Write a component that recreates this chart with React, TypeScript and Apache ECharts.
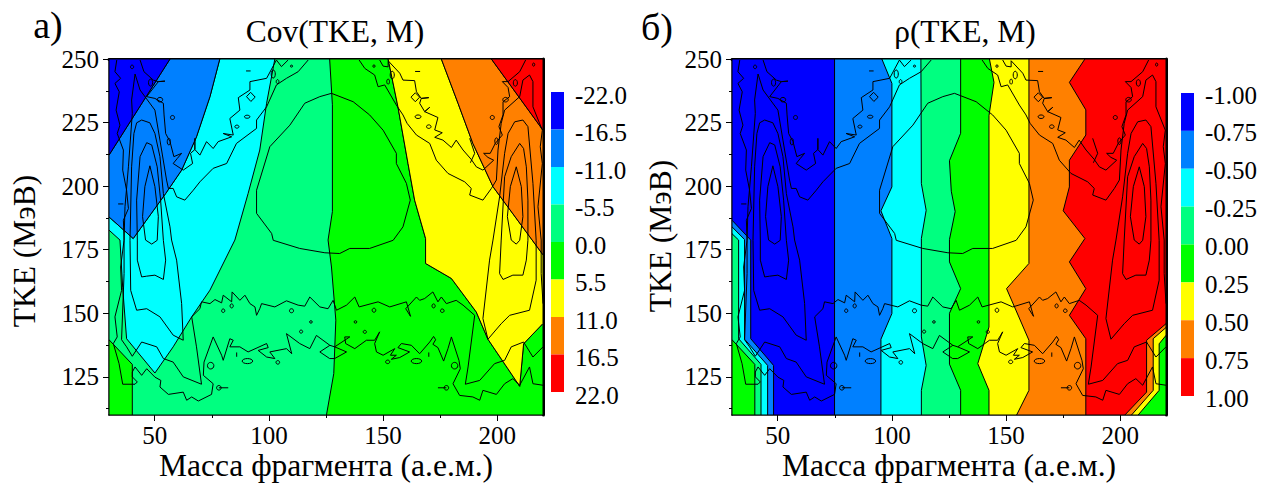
import React, { useEffect, useRef } from "react";
import * as echarts from "echarts";

type P = number[];
const X_MIN = 30, X_MAX = 220, Y_MIN = 110, Y_MAX = 250;
const xMajor = [50, 100, 150, 200];
const xMinor = [75, 125, 175];
const yMajor = [125, 150, 175, 200, 225, 250];
const yMinor = [112.5, 137.5, 162.5, 187.5, 212.5, 237.5];
const colors = ["#0000ff", "#0080ff", "#00ffff", "#00ff80", "#00ff00", "#ffff00", "#ff8000", "#ff0000"];
const covLevels = ["-22.0", "-16.5", "-11.0", "-5.5", "0.0", "5.5", "11.0", "16.5", "22.0"];
const rhoLevels = ["-1.00", "-0.75", "-0.50", "-0.25", "0.00", "0.25", "0.50", "0.75", "1.00"];

/* ---------- Cov panel filled bands (mass, TKE) ---------- */
const covBack: P[] = [[30, 250], [220, 250], [220, 110], [30, 110]];
const covCornerGreen: P[] = [[30, 139.6], [40.2, 129.9], [40.2, 110], [30, 110]];
const covCyan: P[] = [[78.5, 250], [102.6, 250], [99, 232.6], [96, 214.2], [90.9, 197.1], [85.1, 178.8], [74.2, 159.1], [66.2, 148.6], [58.1, 136.8], [50.1, 126.5], [37.7, 140], [36, 160], [34.8, 178.8], [30, 182.7], [30, 187.9], [40.6, 179.4], [54.8, 197.1], [61.8, 206.3], [68.3, 219.4], [74.2, 235.2]];
const covSky: P[] = [[56.7, 250], [78.5, 250], [74.2, 235.2], [68.3, 219.4], [61.8, 206.3], [54.8, 197.1], [40.6, 179.4], [30, 187.9], [30, 212.2]];
const covBlue: P[] = [[30, 250], [56.7, 250], [30, 212.2]];
const covGreen: P[] = [[126.6, 250], [152.2, 250], [156.5, 231.2], [160.9, 208.9], [163.8, 194.5], [168.6, 179.4], [168.6, 169.6], [179.9, 163.7], [190.8, 150.5], [195.9, 139.8], [209.8, 121.3], [211.5, 138], [220, 146], [220, 110], [125.2, 110], [128.4, 126.3], [129.3, 147.3], [127.4, 168.2], [125.9, 178.8], [127.8, 190], [127.8, 232]];
const covYellow: P[] = [[152.2, 250], [175.5, 250], [182.8, 232.6], [189.3, 216.8], [198.1, 199.8], [220, 173], [220, 146], [211.5, 138], [209.8, 121.3], [195.9, 139.8], [190.8, 150.5], [179.9, 163.7], [168.6, 169.6], [168.6, 179.4], [163.8, 194.5], [160.9, 208.9], [156.5, 231.2]];
const covOrange: P[] = [[175.5, 250], [197.4, 250], [220, 222], [220, 173], [198.1, 199.8], [189.3, 216.8], [182.8, 232.6]];
const covRed: P[] = [[197.4, 250], [220, 250], [220, 222]];

/* ---------- rho panel filled bands ---------- */
const rhoBack: P[] = [[30, 250], [220, 250], [220, 110], [30, 110]];
const rhoSkyEdge: P[] = [[74.9, 250], [74.9, 110]];
const rhoCyanEdge: P[] = [[95.6, 250], [100, 240.4], [100, 199.7], [95.2, 190.3], [100, 179.4], [100, 149.9], [95.2, 139.8], [95.2, 110]];
const rhoSpringEdge: P[] = [[112.7, 250], [112.9, 201], [115, 190.5], [112.9, 179.4], [112.9, 140.7], [115, 129.5], [112.9, 119.7], [112.9, 110]];
const rhoGreenEdge: P[] = [[130.1, 250], [130.1, 220.8], [125.2, 210], [126, 198], [127.7, 190], [125.2, 179], [125.2, 170.2], [130.1, 159.7], [125.2, 150], [125.2, 130], [130.1, 119.7], [130.1, 110]];
const rhoYellowEdge: P[] = [[142.7, 250], [144.7, 240.8], [142.5, 227.7], [142.5, 144.6], [137.6, 130.2], [142.5, 119.7], [142.5, 110]];
const rhoOrangeEdge: P[] = [[160, 250], [160, 169.6], [150.2, 159.7], [160, 139.4], [160, 119.7], [154.6, 110]];
const rhoRedEdge: P[] = [[184.5, 250], [177.7, 240.8], [184.9, 230], [184.9, 220.1], [177.7, 210.2], [177.7, 199.7], [175, 190.3], [184.5, 179.4], [177.7, 170.2], [184.9, 159.7], [177.7, 149.2], [184.9, 140], [184.9, 110]];
const rhoRightOrange: P[] = [[202, 110], [211.5, 119], [211.5, 139.4], [220, 145.9], [220, 110]];
const rhoRightYellow: P[] = [[204.9, 110], [214.4, 119.7], [214.4, 140], [220, 144.4], [220, 110]];
const rhoRightGreen: P[] = [[207.8, 110], [217, 119.7], [217, 138], [220, 141.3], [220, 110]];
const rhoLeftSky: P[] = [[30, 186.6], [38.2, 178.8], [38.2, 140], [48.2, 129.5], [48.2, 110], [30, 110]];
const rhoLeftCyan: P[] = [[30, 184], [35.5, 179], [35.5, 139.8], [45.6, 129.5], [45.6, 110], [30, 110]];
const rhoLeftSpring: P[] = [[30, 181.3], [32.9, 178.8], [32.9, 140], [42.7, 129.9], [42.7, 110], [30, 110]];
const rhoLeftGreen: P[] = [[30, 139.6], [40, 129.9], [40, 110], [30, 110]];

/* ---------- yield contours, common to both panels ---------- */
const outerLeftLower: P[] = [[33.4, 249.6], [32.6, 245], [35.1, 242.4], [32.6, 240.4], [34.5, 237.1], [33.1, 229.9], [34.8, 224], [33.6, 220.7], [36.3, 214.2], [36, 206.3], [37.7, 198.4], [38.5, 191.2], [36.3, 186.6], [36.6, 178.8], [35.1, 168.2], [35.5, 159], [32.6, 148.6], [33.6, 140.7], [31.9, 138.1], [34.4, 130.2], [36, 122.1], [41.4, 122.1], [42.4, 123], [40.2, 125], [40.2, 126.9], [41.4, 128.9], [44.3, 125.6], [46.5, 128.2], [50.1, 124.9], [52.7, 123.6], [52.3, 121], [56, 118.1], [62.5, 119], [64, 115.8], [66.2, 117.1], [69.1, 115.5], [74.9, 118.1], [75.6, 122.3], [71.3, 125.6], [71.6, 130.8], [75.6, 140.7], [79.3, 133.5], [80, 131.5], [82.9, 140], [84.4, 139.4], [82.9, 136.8], [87.3, 136.8], [90.9, 134.8], [99, 138.1], [99.7, 136.5], [95.3, 135.4], [99, 132.8], [102.6, 132.2], [100.4, 134.8], [107.7, 136.1], [110, 134.1], [107.7, 142], [113.5, 138.1], [117.9, 136.1], [120.8, 141.3], [126.7, 137.4], [128.8, 136.8], [135.4, 140.7], [133.2, 140.7], [133.6, 138.1], [137.6, 136.1], [142.7, 139.4], [146.3, 139.4], [148.5, 142.7], [146.3, 138.1], [147.1, 134.8], [150, 133.5], [155.1, 136.1], [153.2, 133.5], [155.8, 133.5], [153.6, 131.9], [157.3, 132.6], [161.6, 134.8], [156.5, 136.5], [158, 138.1], [162.4, 137.4], [166, 134.1], [170.4, 138.7], [172.1, 140.9], [173, 139.6], [171.8, 137.8], [174, 136.5], [176.5, 131.2], [178.4, 136.1], [179.9, 140.7], [183.2, 131.5], [183.8, 128.2], [180.6, 122.3], [183.5, 117.7], [189.3, 117.1], [192.3, 115.8], [193.7, 119.7], [199.6, 118.1], [203.2, 122.3], [206.8, 124.3], [209.8, 121.7], [214.1, 128.9], [215.6, 122.3], [220, 121.7]];
const middleBranch: P[] = [[126.7, 137.4], [122.3, 134.8], [126.6, 132.2], [128.8, 132.2], [134, 134.8], [128.8, 136.8]];
const upperBandLoop: P[] = [[117.2, 249.6], [112.8, 245], [107.7, 242.4], [103.3, 239.8], [99, 231.2], [94.6, 226], [94.6, 222.7], [85.8, 216.8], [81.5, 208.9], [75.6, 207], [69.8, 201.7], [66.9, 198.4], [63.2, 194.5], [59.6, 195.8], [58.1, 199.1], [56, 199.1], [55.2, 202.4], [52.3, 218.1], [50.1, 229.9], [43.6, 237.8], [41.4, 244.1], [39.9, 233.9], [40.2, 228.6], [38.5, 207.6], [37, 191.9], [36.6, 178.7], [36.6, 165.6], [35.5, 139.6], [37.7, 136.8], [40.2, 133.1], [44.3, 138.7], [50.9, 136.8], [53.8, 132.2], [58.1, 130.8], [62.5, 125], [70.5, 122.1], [68.3, 136.8], [66.2, 148.6], [69.8, 151.8], [70.5, 154.5], [74.2, 153.8], [76.4, 155.4], [79.3, 154.1], [80, 157.1], [83.7, 154.5], [83.9, 158.4], [87.3, 155.1], [89.5, 157.1], [91.7, 153.8], [93.9, 152.5], [94.6, 149.2], [96, 151.8], [96.8, 153.8], [102.6, 152.5], [107.7, 154.9], [112.8, 153.2], [115.7, 152.8], [117.9, 156.4], [122.3, 152.5], [125.9, 151.8], [128.1, 155.1], [129.6, 151.2], [134, 153.2], [137.6, 156.4], [139.5, 152.5], [147.8, 154.5], [152.9, 152.5], [160.2, 154.5], [162, 148.8], [159.9, 151.8], [164.6, 156.4], [166, 155.1], [168.2, 155.8], [171.8, 158.4], [174, 154.5], [175.5, 156.4], [177.7, 153.8], [182, 155.1], [185, 153.2], [190.1, 149.2], [187.2, 128.9], [186, 122.1], [192.3, 123.6], [198.8, 130.2], [203.2, 131.5], [206.1, 136.8], [211.5, 138.7], [215.6, 132.8], [220, 136.8]];
const jaggedLeft: P[] = [[43.6, 249.6], [45.3, 245], [49.4, 241.7], [51.6, 241.1], [54.5, 241.3], [51.6, 241.1], [46.5, 235.2], [50.1, 234.5], [53.8, 232.6], [54.1, 228], [54.8, 220.7], [56.7, 217.5], [58.4, 211.6], [61.8, 212.9], [59.9, 210.9], [58.1, 208.9], [62.5, 206.3], [66.6, 208.9], [65.7, 212.9], [67.6, 214.4], [67.6, 218.8], [67.6, 214.4], [69.8, 212.2], [72.7, 217.5], [75.6, 214.8], [77.8, 217.5], [83.7, 219.4], [80, 220.7], [84.4, 220.1], [82.9, 226.6], [87.3, 229.9], [86.6, 234.8], [91.7, 237.8], [91.7, 241.1], [99, 242.4], [103.3, 249.6], [105.5, 247], [108.4, 249.6]];
const jaggedRight: P[] = [[148.5, 249.6], [150, 247.2], [152.2, 246.9], [152.2, 249.3], [157.3, 244.4], [158.7, 241.7], [163.8, 241.5], [164.6, 237.1], [166.7, 234.5], [170, 234.8], [166.7, 234.5], [166, 232.6], [168.2, 229.3], [170.4, 231], [168.2, 229.3], [174, 227], [172.6, 222.1], [175.9, 221], [172.6, 219.2], [176.2, 218.1], [179.9, 215.2], [182, 218.1], [185, 214.2], [188.6, 210.5], [190.8, 207.6], [193.7, 206.3], [198.4, 210.2], [195.9, 211.3], [194, 212.9], [196.9, 212.9], [199.1, 216.8], [202.2, 220.1], [200.7, 223.4], [202.5, 228], [202.5, 233.2], [205.4, 235.2], [204.7, 238.8], [202.2, 241.1], [204.7, 241.1], [209.8, 245], [212.4, 249.6]];
const rightShoulder: P[] = [[139.5, 249.6], [142, 246.3], [146.3, 243.7], [147.8, 239.1], [150.7, 239.8], [155.8, 231.9], [158.7, 228], [160.5, 224.7], [164.6, 220.1], [170.4, 216.8], [173.3, 210.2], [178.4, 205], [185.7, 201.7], [188.6, 199.1], [187.9, 196.5], [193.7, 194.5], [197.4, 199.1], [199.6, 202.4], [200.3, 214.2], [201.7, 224.7], [203.2, 229.9], [209.8, 235.2], [211.2, 241.7], [214.1, 243.7], [215.6, 241.1], [215.6, 231.2], [219.7, 222], [218.8, 215.5], [219.7, 208.9], [217.8, 191.9], [219.2, 178.8], [219.2, 165.6], [220, 153.8]];
const peakLeft3: P[] = [[39.5, 159], [39.2, 178.7], [39.9, 207.6], [40.9, 220.7], [42.1, 224.9], [44.3, 226], [47.9, 224.9], [50.1, 220.7], [52.3, 211.6], [53.8, 197.1], [56.7, 184], [57.4, 178.8], [59.6, 170.9], [61.8, 153.8], [62.5, 139.4], [58.1, 141.4], [52.3, 148.6], [46.5, 151.8], [42.1, 151.2], [39.5, 159]];
const peakLeft2: P[] = [[46.5, 217.1], [43.6, 211.6], [42.1, 194.5], [42.4, 178.8], [42.4, 170.9], [44.3, 164.3], [46.5, 164.6], [50.1, 165], [53.8, 163.3], [54.8, 170.9], [53.8, 178.7], [52.6, 194.5], [51.1, 207.6], [48.7, 216.2], [46.5, 217.1]];
const peakLeft1: P[] = [[47.9, 208], [45.7, 199.8], [44.7, 188], [46, 178.8], [48.7, 177.2], [51.1, 178.7], [51.6, 188], [50.1, 199.8], [47.9, 208]];
const peakRight3: P[] = [[211.2, 226], [207.6, 225.3], [204.7, 220.7], [203.2, 212.9], [201, 195.8], [198.1, 178.8], [196.6, 170.9], [193.7, 147.9], [195.9, 139.8], [201.7, 145.9], [205.4, 149.2], [214.1, 151.2], [217, 163], [217, 178.7], [215.6, 201.1], [213.4, 223.4], [211.2, 226]];
const peakRight2: P[] = [[209.8, 216.8], [206.1, 211.6], [203.2, 203.7], [201.7, 178.8], [201, 165.6], [202.5, 163.3], [206.8, 165], [211.2, 165], [212.7, 170.9], [213.4, 178.7], [213.4, 194.5], [212.7, 207.6], [211.5, 214.8], [209.8, 216.8]];
const peakRight1: P[] = [[208.3, 207.6], [205.7, 199.8], [204.4, 188], [206.1, 178.8], [208.3, 177.2], [209.8, 178.7], [211.2, 188], [210.5, 199.8], [208.3, 207.6]];
const centralDome: P[] = [[127.4, 236.5], [122.3, 235.2], [115.7, 232.6], [109.2, 224], [100.4, 215.5], [94.6, 198.4], [94.6, 189.3], [101.2, 181.4], [101.9, 178.7], [113.5, 175.5], [124.5, 173.8], [131, 173.5], [135.4, 175.5], [144.1, 175.5], [154.4, 178.7], [158.7, 184], [161.9, 194.5], [160.2, 201.1], [155.8, 208.9], [155.8, 212.9], [150, 222], [144.1, 228], [136.9, 233.2], [127.4, 236.5]];
const diamondLeft: P[] = [[92, 236.9], [94, 235], [92.1, 233.3], [90.2, 235.2], [92, 236.9]];
const diamondRight: P[] = [[164.1, 236.7], [166, 235], [164.1, 233.2], [162.2, 235], [164.1, 236.7]];
const shortMarks: P[][] = [
  [[34, 193], [36.3, 193]], [[90, 245.3], [92, 245.3]], [[164, 245.1], [166.2, 245.1]],
  [[85.9, 132.9], [85.9, 134.6]], [[170, 132.9], [170, 134.6]], [[78.1, 120.7], [82.2, 120.7]],
  [[174, 120.7], [177.7, 120.7]], [[187.9, 218.8], [190.1, 212.9], [188.2, 209.2]],
];
/* mass, TKE, half width in mass, half height in TKE */
const islands: P[] = [
  [40.1, 246.9, .7, .7], [48.2, 240.7, .9, 1.4], [57.8, 227, .9, .8], [56.2, 217.5, .7, 1.3], [52.3, 234, 1.2, .9], [90.5, 227.3, 1.2, .6], [86, 223.4, .9, .6], [101.9, 244.1, .9, 1.6], [103.8, 241.1, .6, .8], [109.9, 247.2, .5, .4],
  [146, 247.2, .5, .5], [154, 243.7, .9, 1.5], [152.2, 241.1, .6, 1], [165.3, 227.3, 1.3, .7], [170, 223.4, 1, .7], [197.8, 227, .9, .8], [203.6, 234, 1.2, .9], [199.6, 217.7, .7, 1.3], [207.9, 240.6, .9, 1.3], [215.9, 247.8, .5, .6],
  [80, 151, .7, .7], [83.7, 152.9, .7, .8], [109.9, 151, .9, .8], [118.4, 146.6, .6, .5], [114.1, 142.8, .7, .6], [74.5, 129.4, 1.4, 1.3], [78.1, 120.7, 1, .9], [90.6, 131.2, 2.3, 1], [103.9, 130.7, .8, .7],
  [146, 151.2, .8, .8], [172.1, 152.9, .7, .8], [175.9, 151, .8, .7], [137.9, 146.6, .6, .5], [142, 142.7, .7, .6], [152, 130.9, .9, .7], [164.6, 131.2, 2.3, 1], [181.3, 129.4, 1.4, 1.3], [177.7, 120.7, 1, .9],
];
const contourLines: P[][] = [outerLeftLower, middleBranch, upperBandLoop, jaggedLeft, jaggedRight, rightShoulder, peakLeft3, peakLeft2, peakLeft1, peakRight3, peakRight2, peakRight1, centralDome, diamondLeft, diamondRight, ...shortMarks];

const toRight = (edge: P[]): P[] => [...edge, [220, 110], [220, 250]];
const covFills: [P[], string][] = [
  [covBack, colors[3]], [covCornerGreen, colors[4]], [covCyan, colors[2]], [covSky, colors[1]], [covBlue, colors[0]],
  [covGreen, colors[4]], [covYellow, colors[5]], [covOrange, colors[6]], [covRed, colors[7]],
];
const rhoFills: [P[], string][] = [
  [rhoBack, colors[0]], [toRight(rhoSkyEdge), colors[1]], [toRight(rhoCyanEdge), colors[2]], [toRight(rhoSpringEdge), colors[3]],
  [toRight(rhoGreenEdge), colors[4]], [toRight(rhoYellowEdge), colors[5]], [toRight(rhoOrangeEdge), colors[6]], [toRight(rhoRedEdge), colors[7]],
  [rhoRightOrange, colors[6]], [rhoRightYellow, colors[5]], [rhoRightGreen, colors[4]],
  [rhoLeftSky, colors[1]], [rhoLeftCyan, colors[2]], [rhoLeftSpring, colors[3]], [rhoLeftGreen, colors[4]],
];

const FONT = "'Liberation Serif', 'Times New Roman', serif";
const TICK = 25;
const AXIS = 31.5;

function panelAxes(gridIndex: number) {
  const label = { show: true, color: "#000", fontFamily: FONT, fontSize: TICK };
  const hidden = { show: false };
  const thin = { show: true, onZero: false, lineStyle: { color: "#000", width: 1.5 } };
  const thick = { show: true, onZero: false, lineStyle: { color: "#000", width: 3 } };
  const base = { type: "value", gridIndex, splitLine: hidden };
  const xb = { ...base, min: X_MIN, max: X_MAX };
  const yb = { ...base, min: Y_MIN, max: Y_MAX };
  const tickStyle = { color: "#000", width: 1 };
  return {
    x: [
      { ...xb, position: "bottom", axisLine: thin, name: "Масса фрагмента (а.е.м.)", nameLocation: "middle", nameGap: 34, nameMoveOverlap: false,
        nameTextStyle: { color: "#000", fontFamily: FONT, fontSize: AXIS },
        axisTick: { show: true, length: 6, lineStyle: tickStyle, customValues: xMajor },
        axisLabel: { ...label, margin: 8, customValues: xMajor } },
      { ...xb, position: "bottom", axisLine: { show: false, onZero: false }, axisLabel: hidden,
        axisTick: { show: true, length: 3, lineStyle: tickStyle, customValues: xMinor } },
      { ...xb, position: "top", axisLine: thick, axisTick: hidden, axisLabel: hidden },
    ],
    y: [
      { ...yb, position: "left", axisLine: thin,
        axisTick: { show: true, length: 6, lineStyle: tickStyle, customValues: yMajor },
        axisLabel: { ...label, margin: 10, customValues: yMajor } },
      { ...yb, position: "left", axisLine: { show: false, onZero: false }, axisLabel: hidden,
        axisTick: { show: true, length: 3, lineStyle: tickStyle, customValues: yMinor } },
      { ...yb, position: "right", axisLine: thick, axisTick: hidden, axisLabel: hidden },
    ],
  };
}

function fillSeries(fills: [P[], string][], xAxisIndex: number, yAxisIndex: number) {
  return {
    type: "custom", coordinateSystem: "cartesian2d", xAxisIndex, yAxisIndex, clip: true, silent: true, z: 1,
    data: fills.map((_, i) => [i]), encode: { x: [], y: [] },
    renderItem: (params: any, api: any) => ({
      type: "polygon",
      shape: { points: fills[params.dataIndex][0].map((p) => api.coord(p)) },
      style: { fill: fills[params.dataIndex][1], stroke: "#000", lineWidth: 1 },
    }),
  };
}
function lineSeries(xAxisIndex: number, yAxisIndex: number) {
  return {
    type: "custom", coordinateSystem: "cartesian2d", xAxisIndex, yAxisIndex, clip: true, silent: true, z: 2,
    data: contourLines.map((_, i) => [i]), encode: { x: [], y: [] },
    renderItem: (params: any, api: any) => ({
      type: "polyline",
      shape: { points: contourLines[params.dataIndex].map((p) => api.coord(p)) },
      style: { fill: "none", stroke: "#000", lineWidth: 1 },
    }),
  };
}
function islandSeries(xAxisIndex: number, yAxisIndex: number) {
  return {
    type: "custom", coordinateSystem: "cartesian2d", xAxisIndex, yAxisIndex, clip: true, silent: true, z: 2,
    data: islands.map((_, i) => [i]), encode: { x: [], y: [] },
    renderItem: (params: any, api: any) => {
      const [m, t, rm, rt] = islands[params.dataIndex];
      const c = api.coord([m, t]);
      const s = api.size([rm, rt]);
      return { type: "ellipse", shape: { cx: c[0], cy: c[1], rx: s[0], ry: s[1] }, style: { fill: "none", stroke: "#000", lineWidth: 1 } };
    },
  };
}
function barSeries(xAxisIndex: number, yAxisIndex: number) {
  return {
    type: "custom", coordinateSystem: "cartesian2d", xAxisIndex, yAxisIndex, clip: false, silent: true, z: 1,
    data: colors.map((_, i) => [i]), encode: { x: [], y: [] },
    renderItem: (params: any, api: any) => {
      const i = params.dataIndex;
      return {
        type: "polygon",
        shape: { points: [[0, i], [1, i], [1, i + 1], [0, i + 1]].map((p) => api.coord(p)) },
        style: { fill: colors[i] },
      };
    },
  };
}
function barAxes(gridIndex: number) {
  return {
    x: { type: "value", gridIndex, min: 0, max: 1, show: false },
    y: { type: "value", gridIndex, min: 0, max: 8, interval: 1, inverse: true, show: false },
  };
}
function barLabelAxes(gridIndex: number, levels: string[]) {
  return {
    x: { type: "value", gridIndex, min: 0, max: 1, show: false },
    y: {
      type: "value", gridIndex, min: 0, max: 8, interval: 1, inverse: true, position: "right",
      axisLine: { show: false, onZero: false }, axisTick: { show: false }, splitLine: { show: false },
      axisLabel: {
        show: true, color: "#000", fontFamily: FONT, fontSize: TICK, margin: 11,
        formatter: (v: number) => levels[v],
      },
    },
  };
}

export default function App() {
  const ref = useRef<HTMLDivElement>(null);
  useEffect(() => {
    const chart = echarts.init(ref.current!, undefined, { renderer: "svg" });
    const a = panelAxes(0);
    const b = panelAxes(1);
    const ca = barAxes(2);
    const cb = barAxes(3);
    const la = barLabelAxes(4, covLevels);
    const lb = barLabelAxes(5, rhoLevels);
    const titleStyle = { color: "#000", fontFamily: FONT, fontSize: 31.5, fontWeight: "normal" as const };
    const text = (t: string, x: number, y: number, size: number, rotation = 0) => ({
      type: "text", x, y, rotation,
      style: { text: t, fill: "#000", font: `${size}px ${FONT}`, textAlign: "center", textVerticalAlign: "middle" },
    });
    const free = { outerBoundsMode: "none" };
    chart.setOption({
      animation: false,
      backgroundColor: "#fff",
      title: [
        { text: "Cov(TKE, M)", left: 330, top: 10, textAlign: "center", textStyle: titleStyle },
        { text: "ρ(TKE, M)", left: 960, top: 10, textAlign: "center", textStyle: titleStyle },
      ],
      grid: [
        { ...free, left: 109, top: 59, width: 434, height: 356 },
        { ...free, left: 732, top: 59, width: 434, height: 356 },
        { ...free, left: 551, top: 92, width: 13, height: 300 },
        { ...free, left: 1181, top: 93, width: 13, height: 303 },
        { ...free, left: 551, top: 95, width: 13, height: 300 },
        { ...free, left: 1181, top: 95, width: 13, height: 303 },
      ],
      xAxis: [...a.x, ...b.x, ca.x, cb.x, la.x, lb.x],
      yAxis: [...a.y, ...b.y, ca.y, cb.y, la.y, lb.y],
      series: [
        fillSeries(covFills, 0, 0), lineSeries(0, 0), islandSeries(0, 0),
        fillSeries(rhoFills, 3, 3), lineSeries(3, 3), islandSeries(3, 3),
        barSeries(6, 6), barSeries(7, 7),
      ],
      graphic: [
        text("а)", 48, 25, 38),
        text("б)", 657, 27, 38),
        text("TKE (МэВ)", 24, 251, AXIS, Math.PI / 2),
        text("TKE (МэВ)", 660, 236, AXIS, Math.PI / 2),
      ],
    });
    return () => chart.dispose();
  }, []);
  return <div ref={ref} style={{ position: "absolute", left: 0, top: 0, width: 1275, height: 483 }} />;
}
